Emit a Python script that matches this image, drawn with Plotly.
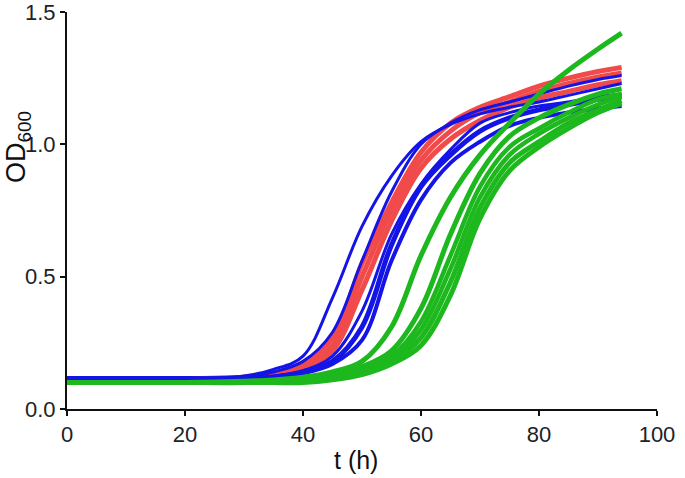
import plotly.graph_objects as go

time_h = [0, 10, 20, 30, 35, 40, 45, 50, 55, 60, 65, 70, 75, 80, 85, 90, 94]

# red replicates
red_a = [0.115, 0.115, 0.115, 0.12, 0.135, 0.17, 0.27, 0.55, 0.78, 0.97, 1.08, 1.14, 1.18, 1.22, 1.25, 1.275, 1.29]
red_b = [0.115, 0.115, 0.115, 0.12, 0.13, 0.16, 0.24, 0.50, 0.75, 0.94, 1.05, 1.12, 1.16, 1.20, 1.23, 1.255, 1.27]
red_c = [0.115, 0.115, 0.115, 0.115, 0.125, 0.15, 0.22, 0.45, 0.71, 0.91, 1.02, 1.09, 1.14, 1.175, 1.20, 1.225, 1.24]

# blue replicates
blue_1 = [0.115, 0.115, 0.115, 0.125, 0.15, 0.20, 0.42, 0.69, 0.88, 1.01, 1.075, 1.115, 1.14, 1.16, 1.185, 1.21, 1.23]
blue_2 = [0.115, 0.115, 0.115, 0.115, 0.12, 0.14, 0.18, 0.31, 0.62, 0.84, 0.96, 1.05, 1.10, 1.13, 1.15, 1.17, 1.18]
blue_3 = [0.115, 0.115, 0.115, 0.115, 0.12, 0.135, 0.17, 0.26, 0.56, 0.79, 0.93, 1.01, 1.07, 1.10, 1.12, 1.135, 1.145]
blue_4 = [0.115, 0.115, 0.115, 0.12, 0.14, 0.18, 0.29, 0.56, 0.82, 1.00, 1.08, 1.13, 1.16, 1.19, 1.22, 1.245, 1.26]
blue_5 = [0.115, 0.115, 0.115, 0.115, 0.125, 0.145, 0.20, 0.37, 0.66, 0.85, 0.98, 1.08, 1.12, 1.145, 1.16, 1.18, 1.19]

# green replicates
green_1 = [0.10, 0.10, 0.10, 0.105, 0.11, 0.12, 0.14, 0.18, 0.31, 0.58, 0.80, 0.96, 1.08, 1.19, 1.28, 1.36, 1.42]
green_2 = [0.10, 0.10, 0.10, 0.10, 0.105, 0.115, 0.13, 0.16, 0.22, 0.38, 0.66, 0.89, 1.03, 1.10, 1.15, 1.19, 1.21]
green_3 = [0.10, 0.10, 0.10, 0.10, 0.10, 0.11, 0.125, 0.15, 0.20, 0.33, 0.58, 0.84, 0.99, 1.06, 1.12, 1.17, 1.19]
green_4 = [0.10, 0.10, 0.10, 0.10, 0.10, 0.105, 0.115, 0.14, 0.18, 0.27, 0.48, 0.76, 0.93, 1.01, 1.08, 1.13, 1.165]
green_5 = [0.10, 0.10, 0.10, 0.10, 0.10, 0.10, 0.11, 0.13, 0.17, 0.24, 0.43, 0.72, 0.90, 0.99, 1.06, 1.12, 1.155]
green_6 = [0.10, 0.10, 0.10, 0.10, 0.10, 0.105, 0.12, 0.145, 0.19, 0.30, 0.53, 0.80, 0.96, 1.04, 1.10, 1.15, 1.18]

x_ticks = [0, 20, 40, 60, 80, 100]
y_ticks = [0.0, 0.5, 1.0, 1.5]

RED = "#F04A4A"
BLUE = "#1414E6"
GREEN = "#1DB81D"

series = [
    (red_a, RED, 5), (red_b, RED, 5), (red_c, RED, 5),
    (blue_1, BLUE, 3), (blue_4, BLUE, 3), (blue_5, BLUE, 3), (blue_2, BLUE, 5), (blue_3, BLUE, 4),
    (green_2, GREEN, 5), (green_3, GREEN, 4.5), (green_6, GREEN, 4.5), (green_4, GREEN, 5), (green_5, GREEN, 5),
    (green_1, GREEN, 5),
]

fig = go.Figure()
for ys, col, w in series:
    fig.add_trace(go.Scatter(
        x=time_h, y=ys, mode="lines",
        line=dict(color=col, width=w, shape="spline", smoothing=1.0),
        showlegend=False, hoverinfo="skip",
    ))

FONT = "Liberation Sans, Arial, sans-serif"
axis_font = dict(family=FONT, size=22, color="#222222")
title_font = dict(family=FONT, size=25, color="#111111")

fig.update_layout(
    width=685, height=478,
    margin=dict(l=67, r=28, t=12, b=69),
    paper_bgcolor="white", plot_bgcolor="white",
    showlegend=False,
)
fig.update_xaxes(
    range=[0, 100], tickvals=x_ticks, ticktext=[str(v) for v in x_ticks],
    showline=True, linecolor="#111111", linewidth=2,
    ticks="outside", ticklen=5, tickwidth=2, tickcolor="#111111",
    showgrid=False, zeroline=False, tickfont=axis_font, automargin=False,
    ticklabeloverflow="allow",
)
fig.update_yaxes(
    range=[0, 1.5], tickvals=y_ticks, ticktext=[f"{v:.1f}" for v in y_ticks],
    showline=True, linecolor="#111111", linewidth=2,
    ticks="outside", ticklen=5, tickwidth=2, tickcolor="#111111",
    showgrid=False, zeroline=False, tickfont=axis_font, automargin=False,
    ticklabeloverflow="allow",
)

fig.add_annotation(
    text="t (h)", xref="paper", yref="paper", x=0.49, y=-0.128,
    xanchor="center", yanchor="middle", showarrow=False, font=title_font,
)
fig.add_annotation(
    text="OD<sub>600</sub>", xref="paper", yref="paper", x=-0.083, y=0.66,
    xanchor="center", yanchor="middle", showarrow=False, textangle=-90,
    font=dict(family=FONT, size=27, color="#111111"),
)

fig.write_html(
    "out.html",
    config={"displayModeBar": False},
    post_script="document.body.style.margin='0';document.body.style.padding='0';",
)
